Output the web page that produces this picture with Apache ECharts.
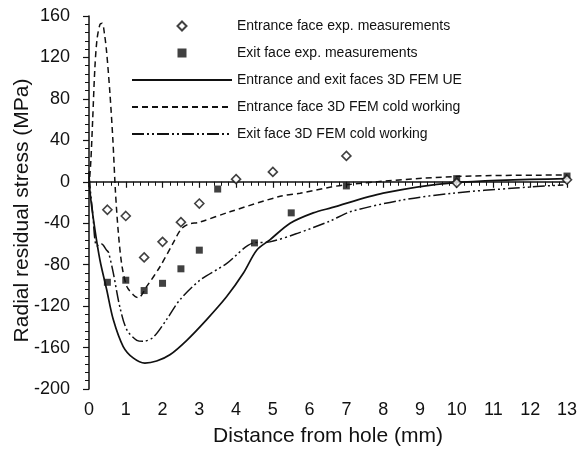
<!DOCTYPE html>
<html>
<head>
<meta charset="utf-8">
<script src="https://cdn.jsdelivr.net/npm/echarts@6/dist/echarts.min.js"></script>
<style>html,body{margin:0;padding:0;background:#fff;}#c{width:584px;height:450px;}</style>
</head>
<body>
<div id="c"></div>
<script>
// Experimental measurements
var expX = [0.5, 1.0, 1.5, 2.0, 2.5, 3.0, 4.0, 5.0, 7.0, 10.0, 13.0];
var entranceExp = [-27, -33, -73, -58, -39, -21, 2.5, 9.5, 25, -1, 2];
var exitExpX = [0.5, 1.0, 1.5, 2.0, 2.5, 3.0, 3.5, 4.5, 5.5, 7.0, 10.0, 13.0];
var exitExp = [-97, -95, -105, -98, -84, -66, -7, -59, -30, -4, 3, 5.5];

// FEM UE (entrance and exit)
var ueX = [0, 0.03, 0.16, 0.3, 0.48, 0.66, 0.93, 1.2, 1.52, 1.84, 2.2, 2.66, 3.2, 3.74, 4.2, 4.56, 4.92, 5.47, 6.1, 6.6, 8.0, 9.9, 13];
var ueY = [10, -11, -46, -76, -104, -133, -159, -170, -175, -173, -167, -153, -133, -111, -88, -66, -56, -40, -30, -25, -11, -1, 3];

// Entrance face cold working
var entCwX = [0, 0.05, 0.1, 0.16, 0.22, 0.3, 0.36, 0.42, 0.48, 0.57, 0.65, 0.72, 0.8, 0.9, 1.03, 1.2, 1.34, 1.57, 1.93, 2.29, 2.5, 2.7, 3.0, 3.83, 5.2, 5.74, 6.96, 9.9, 13];
var entCwY = [-5, 20, 60, 110, 138, 152, 153, 143, 125, 85, 40, -10, -50, -82, -101, -109, -112, -101, -82, -59, -46, -41, -39, -29, -14, -11, -3, 5, 6.5];

// Exit face cold working
var exCwX = [0, 0.1, 0.21, 0.34, 0.48, 0.53, 0.66, 0.84, 1.03, 1.3, 1.48, 1.75, 2.11, 2.47, 3.02, 3.74, 4.47, 4.92, 5.65, 6.55, 7.1, 8.46, 9.9, 11.6, 12.9];
var exCwY = [5, -30, -62, -60, -66, -68, -88, -121, -143, -153, -154, -150, -133, -114, -95, -79, -59, -58, -50, -38, -29, -18, -11, -6, -3];

var xTicks = [0,1,2,3,4,5,6,7,8,9,10,11,12,13];
var yTicks = [-200,-160,-120,-80,-40,0,40,80,120,160];

var names = [
  'Entrance face exp. measurements',
  'Exit face exp. measurements',
  'Entrance and exit faces 3D FEM UE',
  'Entrance face 3D FEM cold working',
  'Exit face 3D FEM cold working'
];

function zip(xs, ys) { return xs.map(function (x, i) { return [x, ys[i]]; }); }

var chart = echarts.init(document.getElementById('c'), null, {renderer: 'canvas'});
var fontFam = 'Liberation Sans, Arial, sans-serif';
var ink = '#111';
var clear = 'rgba(0,0,0,0)';
var diamondPath = 'path://M5,0L10,5L5,10L0,5Z';
var squarePath = 'path://M0,0L10,0L10,10L0,10Z';
chart.setOption({
  animation: false,
  backgroundColor: '#fff',
  textStyle: {fontFamily: fontFam, color: ink},
  grid: {left: 89, right: 17, top: 16, bottom: 61, containLabel: false, outerBoundsMode: 'none'},
  legend: {
    orient: 'vertical', left: 131, top: 19,
    itemWidth: 100, itemHeight: 9, itemGap: 13, padding: 0,
    symbolKeepAspect: true,
    textStyle: {fontSize: 14, lineHeight: 14, color: ink, fontFamily: fontFam},
    data: names, selectedMode: false
  },
  xAxis: {
    type: 'value', min: xTicks[0], max: xTicks[xTicks.length - 1], interval: 1,
    name: 'Distance from hole (mm)', nameLocation: 'middle', nameGap: 37, nameMoveOverlap: false,
    nameTextStyle: {fontSize: 21, color: ink, fontFamily: fontFam},
    axisLine: {lineStyle: {color: ink, width: 1.5}},
    axisTick: {show: true, inside: false, length: 6, lineStyle: {color: ink, width: 1.2}},
    minorTick: {show: true, splitNumber: 5, length: 4, lineStyle: {color: ink, width: 1}},
    axisLabel: {fontSize: 18, color: ink, margin: 12, fontFamily: fontFam},
    splitLine: {show: false}
  },
  yAxis: {
    type: 'value', min: yTicks[0], max: yTicks[yTicks.length - 1], interval: 40,
    name: 'Radial residual stress (MPa)', nameLocation: 'middle', nameGap: 56, nameRotate: 90, nameMoveOverlap: false,
    nameTextStyle: {fontSize: 21, color: ink, fontFamily: fontFam, padding: [0, 16, 0, 0]},
    axisLine: {show: true, lineStyle: {color: ink, width: 1.5}},
    axisTick: {show: true, inside: false, length: 6, lineStyle: {color: ink, width: 1.2}},
    minorTick: {show: true, splitNumber: 5, length: 4, lineStyle: {color: ink, width: 1}},
    axisLabel: {fontSize: 18, color: ink, margin: 19, fontFamily: fontFam},
    splitLine: {show: false}
  },
  series: [
    {
      name: names[2], type: 'line', data: zip(ueX, ueY), smooth: 0.3, showSymbol: false, symbol: 'none',
      lineStyle: {color: ink, width: 1.7, type: 'solid'}, itemStyle: {color: clear, borderWidth: 0}, z: 2
    },
    {
      name: names[3], type: 'line', data: zip(entCwX, entCwY), smooth: 0.3, showSymbol: false, symbol: 'none',
      lineStyle: {color: ink, width: 1.5, type: [6, 4]}, itemStyle: {color: clear, borderWidth: 0}, z: 2
    },
    {
      name: names[4], type: 'line', data: zip(exCwX, exCwY), smooth: 0.3, showSymbol: false, symbol: 'none',
      lineStyle: {color: ink, width: 1.5, type: [12, 3, 2, 3, 2, 3]}, itemStyle: {color: clear, borderWidth: 0}, z: 2
    },
    {
      name: names[0], type: 'scatter', data: zip(expX, entranceExp), symbol: diamondPath, symbolSize: 9,
      symbolKeepAspect: true,
      itemStyle: {color: '#fff', borderColor: ink, borderWidth: 1.6}, z: 4
    },
    {
      name: names[1], type: 'scatter', data: zip(exitExpX, exitExp), symbol: squarePath, symbolSize: 7,
      symbolKeepAspect: true,
      itemStyle: {color: ink}, z: 3
    }
  ]
});
</script>
</body>
</html>
